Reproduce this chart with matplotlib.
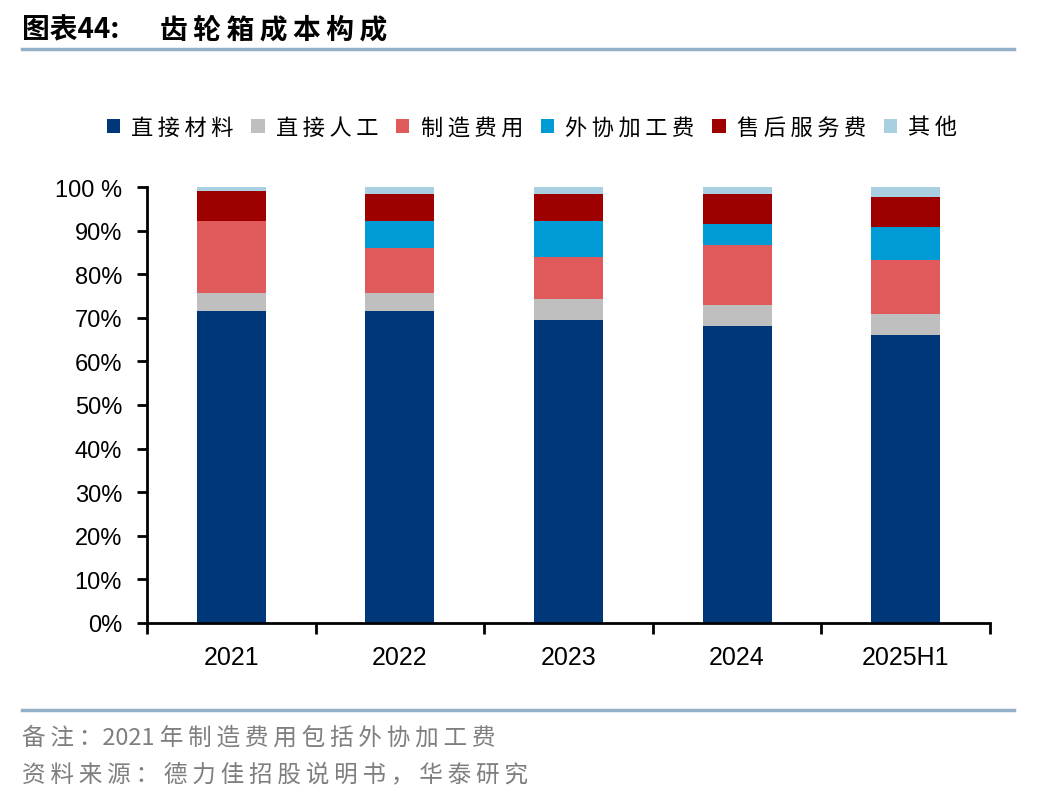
import matplotlib
matplotlib.use("Agg")
import matplotlib.pyplot as plt
from matplotlib.lines import Line2D
from matplotlib.patches import Patch
import numpy as np

plt.rcParams['font.family'] = ['Noto Sans CJK SC', 'DejaVu Sans']

categories = ['2021', '2022', '2023', '2024', '2025H1']
series_names = ['直接材料', '直接人工', '制造费用', '外协加工费', '售后服务费', '其他']
direct_material = [71.6, 71.6, 69.5, 68.1, 66.1]
direct_labor = [4.1, 4.1, 4.8, 4.8, 4.8]
manufacturing = [16.5, 10.3, 9.7, 13.8, 12.4]
outsourcing = [0.0, 6.2, 8.2, 4.8, 7.5]
after_sales = [6.9, 6.2, 6.2, 6.9, 6.9]
other = [0.9, 1.6, 1.6, 1.6, 2.3]
yticklabels = ['0%', '10%', '20%', '30%', '40%', '50%', '60%', '70%', '80%', '90%', '100 %']

colors = ['#003778', '#BFBFBF', '#E15A5B', '#009BD4', '#9E0000', '#A8D0E0']
series = [direct_material, direct_labor, manufacturing, outsourcing, after_sales, other]

TS = '\u2009'


def spaced(s):
    return TS.join(list(s))


fig = plt.figure(figsize=(10.48, 8.04), dpi=100)
ax = fig.add_axes([147/1048, 1-624/804, (990-147)/1048, (624-188)/804])

x = np.arange(len(categories))
bottom = np.zeros(len(categories))
for vals, c in zip(series, colors):
    ax.bar(x, vals, bottom=bottom, width=0.41, color=c, zorder=2)
    bottom += np.array(vals)

ax.set_xlim(-0.5, len(categories) - 0.5)
ax.set_ylim(0, 100)
ax.set_yticks(np.arange(0, 101, 10))
ax.set_yticklabels(yticklabels, family=['Liberation Sans'], fontsize=17)
ax.set_xticks(x)
ax.set_xticklabels(categories, family=['Liberation Sans'], fontsize=18)
ax.set_xticks(np.arange(-0.5, len(categories), 1), minor=True)
ax.tick_params(axis='x', which='major', length=0, pad=16)
ax.tick_params(axis='x', which='minor', length=8, width=2, direction='out')
ax.tick_params(axis='y', length=7, width=2, direction='out', pad=11)
for s in ['top', 'right']:
    ax.spines[s].set_visible(False)
for s in ['left', 'bottom']:
    ax.spines[s].set_linewidth(2)

handles = [Patch(facecolor=c, edgecolor='none') for c in colors]
fig.legend(handles, [spaced(n) for n in series_names], loc='center',
           bbox_to_anchor=(532/1048, 1-128/804),
           ncol=6, frameon=False, fontsize=16, handlelength=0.6, handleheight=0.6,
           handletextpad=0.5, columnspacing=0.8)

# Title
fig.text(22/1048, 1-30/804, '图表44:', fontsize=20, fontweight='bold',
         va='center', ha='left')
fig.text(160/1048, 1-30/804, spaced('齿轮箱成本构成'), fontsize=20, fontweight='bold',
         va='center', ha='left')
# separator lines
fig.add_artist(Line2D([22/1048, 1014/1048], [1-50/804, 1-50/804], color='#94AFC8', lw=2.5))
fig.add_artist(Line2D([22/1048, 1014/1048], [1-711/804, 1-711/804], color='#94AFC8', lw=2.5))

fig.text(22/1048, 1-738/804, spaced('备注：') + '2021 ' + spaced('年制造费用包括外协加工费'),
         fontsize=17, color='#7F7F7F', va='center', ha='left')
fig.text(22/1048, 1-775/804, spaced('资料来源：德力佳招股说明书，华泰研究'), fontsize=17,
         color='#7F7F7F', va='center', ha='left')

fig.savefig('out.png', dpi=100)
